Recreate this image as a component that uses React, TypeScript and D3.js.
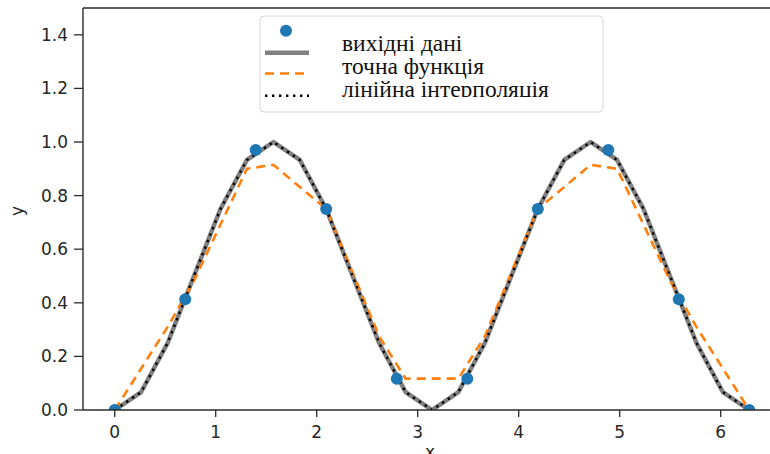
import React from "react";
import * as d3 from "d3";

// Sample nodes (x, sin^2 x)
const nodeX = [0, 0.698, 1.396, 2.094, 2.793, 3.491, 4.189, 4.887, 5.585, 6.283];
const nodeY = [0, 0.413, 0.970, 0.750, 0.117, 0.117, 0.750, 0.970, 0.413, 0];

// Fine grid
const gridX = [
  0, 0.262, 0.524, 0.785, 1.047, 1.309, 1.571, 1.833, 2.094, 2.356, 2.618, 2.880, 3.142,
  3.403, 3.665, 3.927, 4.189, 4.451, 4.712, 4.974, 5.236, 5.498, 5.760, 6.021, 6.283,
];
// Exact function on the grid
const exactY = [
  0, 0.067, 0.25, 0.5, 0.75, 0.933, 1, 0.933, 0.75, 0.5, 0.25, 0.067, 0,
  0.067, 0.25, 0.5, 0.75, 0.933, 1, 0.933, 0.75, 0.5, 0.25, 0.067, 0,
];
// Piecewise-linear interpolant of the nodes on the grid
const linearY = [
  0, 0.155, 0.310, 0.483, 0.692, 0.900, 0.915, 0.832, 0.75, 0.513, 0.275, 0.117, 0.117,
  0.117, 0.275, 0.513, 0.75, 0.832, 0.915, 0.900, 0.692, 0.483, 0.310, 0.155, 0,
];

const xTicks = [0, 1, 2, 3, 4, 5, 6];
const yTicks = [0, 0.2, 0.4, 0.6, 0.8, 1.0, 1.2, 1.4];
const legendLabels = ["вихідні дані", "точна функція", "лінійна інтерполяція"];

const W = 770;
const H = 454;
const plot = { left: 83, right: 781, top: 8, bottom: 410 };

export default function App() {
  const x = d3.scaleLinear().domain([-0.314, 6.597]).range([plot.left, plot.right]);
  const y = d3.scaleLinear().domain([0, 1.5]).range([plot.bottom, plot.top]);

  const line = d3
    .line<[number, number]>()
    .x((d) => x(d[0]))
    .y((d) => y(d[1]));

  const exactPath = line(gridX.map((v, i) => [v, exactY[i]]) as [number, number][]) || "";
  const linearPath = line(gridX.map((v, i) => [v, linearY[i]]) as [number, number][]) || "";

  const tickFont = "DejaVu Sans, sans-serif";
  const axisColor = "#2b2b2b";

  const lg = { x: 260, y: 16, w: 343, h: 96 };
  const handleX0 = 265;
  const handleX1 = 309;
  const rowY = [30.7, 52.7, 73.5, 95.7];
  const textX = 342;
  const baseY = [51, 73.5, 96.5];

  return (
    <div style={{ position: "absolute", left: 0, top: 0 }}>
      <svg width={W} height={H} style={{ display: "block", background: "#fff" }}>
        <defs>
          <clipPath id="plotClip">
            <rect x={plot.left} y={plot.top} width={plot.right - plot.left} height={plot.bottom - plot.top} />
          </clipPath>
          <clipPath id="labelClip">
            <rect x={lg.x} y={lg.y} width={lg.w} height={97 - lg.y} />
          </clipPath>
        </defs>

        <g clipPath="url(#plotClip)">
          <path d={exactPath} fill="none" stroke="#808080" strokeWidth={4.5} strokeLinejoin="round" />
          <path d={linearPath} fill="none" stroke="#ff7f0e" strokeWidth={2.6} strokeDasharray="9 6" />
          <path d={exactPath} fill="none" stroke="#000" strokeWidth={2.4} strokeDasharray="2.4 4.6" />
          {nodeX.map((v, i) => (
            <circle key={i} cx={x(v)} cy={y(nodeY[i])} r={6} fill="#1f77b4" />
          ))}
        </g>

        {/* spines */}
        <line x1={plot.left} x2={plot.left} y1={plot.top} y2={plot.bottom} stroke={axisColor} strokeWidth={1.4} />
        <line x1={plot.left} x2={plot.right} y1={plot.top} y2={plot.top} stroke={axisColor} strokeWidth={1.4} />
        <line x1={plot.left} x2={plot.right} y1={plot.bottom} y2={plot.bottom} stroke={axisColor} strokeWidth={1.4} />

        {/* y axis */}
        {yTicks.map((t) => (
          <g key={t}>
            <line x1={plot.left - 9} x2={plot.left} y1={y(t)} y2={y(t)} stroke={axisColor} strokeWidth={1.3} />
            <text
              x={plot.left - 15}
              y={y(t)}
              textAnchor="end"
              dominantBaseline="central"
              fontFamily={tickFont}
              fontSize={17}
              fill="#262626"
            >
              {t.toFixed(1)}
            </text>
          </g>
        ))}
        <text
          transform="translate(23,211) rotate(-90)"
          textAnchor="middle"
          fontFamily={tickFont}
          fontSize={17}
          fill="#262626"
        >
          y
        </text>

        {/* x axis */}
        {xTicks.map((t) => (
          <g key={t}>
            <line x1={x(t)} x2={x(t)} y1={plot.bottom} y2={plot.bottom + 7} stroke={axisColor} strokeWidth={1.3} />
            <text
              x={x(t)}
              y={432}
              textAnchor="middle"
              dominantBaseline="central"
              fontFamily={tickFont}
              fontSize={17}
              fill="#262626"
            >
              {t}
            </text>
          </g>
        ))}
        <text x={430} y={458} textAnchor="middle" fontFamily={tickFont} fontSize={17} fill="#262626">
          x
        </text>

        {/* legend */}
        <rect x={lg.x} y={lg.y} width={lg.w} height={lg.h} rx={4} fill="#fff" fillOpacity={0.85} stroke="#d6d6d6" strokeWidth={1} />
        <circle cx={286} cy={rowY[0]} r={6} fill="#1f77b4" />
        <line x1={handleX0} x2={handleX1} y1={rowY[1]} y2={rowY[1]} stroke="#808080" strokeWidth={4.5} />
        <line x1={handleX0} x2={handleX1} y1={rowY[2]} y2={rowY[2]} stroke="#ff7f0e" strokeWidth={2.6} strokeDasharray="9 6" />
        <line x1={handleX0} x2={handleX1} y1={rowY[3]} y2={rowY[3]} stroke="#000" strokeWidth={2.4} strokeDasharray="2.4 4.6" />
        <g clipPath="url(#labelClip)">
          {legendLabels.map((s, i) => (
            <text key={s} x={textX} y={baseY[i]} fontFamily="Liberation Serif, serif" fontSize={23.5} fill="#111">
              {s}
            </text>
          ))}
        </g>
      </svg>
    </div>
  );
}
